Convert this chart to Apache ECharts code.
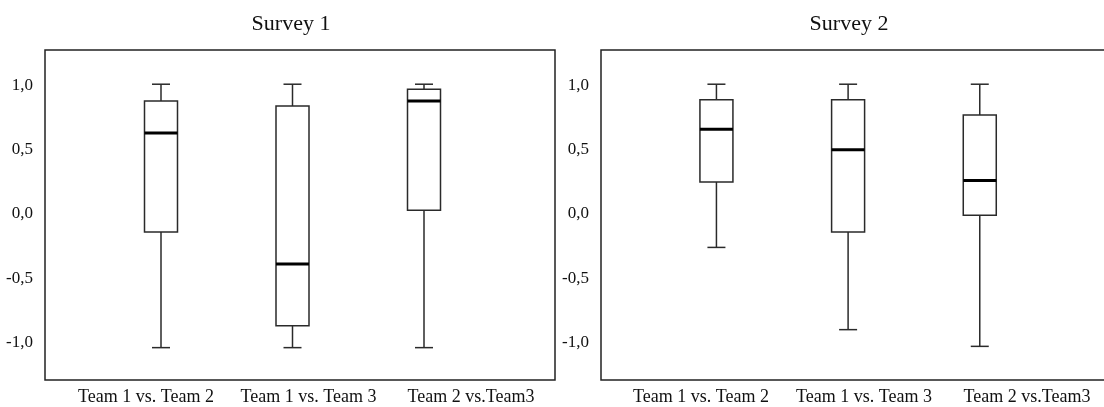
<!DOCTYPE html>
<html>
<head>
<meta charset="utf-8">
<script src="https://cdn.jsdelivr.net/npm/echarts@6/dist/echarts.min.js"></script>
<style>
  html, body { margin: 0; padding: 0; background: #fff; }
  #main { width: 1104px; height: 407px; }
</style>
</head>
<body>
<div id="main"></div>
<script>
'use strict';
var categories = ['Team 1 vs. Team 2', 'Team 1 vs. Team 3', 'Team 2 vs.Team3'];
var titles = ['Survey 1', 'Survey 2'];
var yTicks = [-1.5, -1, -0.5, 0, 0.5, 1, 1.5];

// [lower whisker, Q1, median, Q3, upper whisker]
var survey1Low = [-1.04, -1.04, -1.04];
var survey1Q1 = [-0.14, -0.87, 0.03];
var survey1Median = [0.63, -0.39, 0.88];
var survey1Q3 = [0.88, 0.84, 0.97];
var survey1High = [1.01, 1.01, 1.01];

var survey2Low = [-0.26, -0.90, -1.03];
var survey2Q1 = [0.25, -0.14, -0.01];
var survey2Median = [0.66, 0.50, 0.26];
var survey2Q3 = [0.89, 0.89, 0.77];
var survey2High = [1.01, 1.01, 1.01];

function rows(low, q1, med, q3, high) {
    return categories.map(function (c, i) {
        return [i, low[i], q1[i], med[i], q3[i], high[i]];
    });
}

var FONT = 'Liberation Serif';

function renderBox(params, api) {
    var x = api.value(0);
    var lo = api.coord([x, api.value(1)]);
    var q1 = api.coord([x, api.value(2)]);
    var md = api.coord([x, api.value(3)]);
    var q3 = api.coord([x, api.value(4)]);
    var hi = api.coord([x, api.value(5)]);
    var hw = 16.5, cw = 9;
    var cx = lo[0];
    var st = { stroke: '#2a2a2a', lineWidth: 1.5, fill: null };
    return {
        type: 'group',
        children: [
            { type: 'line', shape: { x1: cx, y1: hi[1], x2: cx, y2: q3[1] }, style: st },
            { type: 'line', shape: { x1: cx, y1: q1[1], x2: cx, y2: lo[1] }, style: st },
            { type: 'line', shape: { x1: cx - cw, y1: hi[1], x2: cx + cw, y2: hi[1] }, style: st },
            { type: 'line', shape: { x1: cx - cw, y1: lo[1], x2: cx + cw, y2: lo[1] }, style: st },
            { type: 'rect', shape: { x: cx - hw, y: q3[1], width: hw * 2, height: q1[1] - q3[1] },
              style: { stroke: '#2a2a2a', lineWidth: 1.5, fill: '#fff' } },
            { type: 'line', shape: { x1: cx - hw, y1: md[1], x2: cx + hw, y2: md[1] },
              style: { stroke: '#000', lineWidth: 3 } }
        ]
    };
}

// panel layout: frame, box grid, label grid
var panels = [
    { frameLeft: 45, frameWidth: 510, boxLeft: 95.25, boxWidth: 394.5, labelLeft: 64.75, labelWidth: 487.5, titleX: 286,
      data: rows(survey1Low, survey1Q1, survey1Median, survey1Q3, survey1High) },
    { frameLeft: 601, frameWidth: 520, boxLeft: 650.6, boxWidth: 395, labelLeft: 619.5, labelWidth: 489, titleX: 844,
      data: rows(survey2Low, survey2Q1, survey2Median, survey2Q3, survey2High) }
];

var option = {
    animation: false,
    backgroundColor: '#fff',
    title: [], grid: [], xAxis: [], yAxis: [], series: []
};

panels.forEach(function (p, k) {
    var g = option.grid.length;
    option.title.push({
        text: titles[k], left: p.titleX, top: 8, textAlign: 'center',
        textStyle: { fontFamily: FONT, fontSize: 22, fontWeight: 'normal', color: '#111' }
    });
    // frame
    option.grid.push({ left: p.frameLeft, top: 50, width: p.frameWidth, height: 330, show: true,
        outerBoundsMode: 'none',
        borderColor: '#222', borderWidth: 1.5, backgroundColor: 'transparent' });
    option.xAxis.push({ gridIndex: g, type: 'category', data: categories, show: false });
    option.yAxis.push({ gridIndex: g, type: 'value', show: false });
    // boxes
    option.grid.push({ left: p.boxLeft, top: 21.25, width: p.boxWidth, height: 385.5, outerBoundsMode: 'none' });
    option.xAxis.push({ gridIndex: g + 1, type: 'category', data: categories, show: false });
    option.yAxis.push({
        gridIndex: g + 1, type: 'value', min: yTicks[0], max: yTicks[yTicks.length - 1], interval: 0.5,
        offset: p.boxLeft - p.frameLeft,
        axisLine: { show: false }, axisTick: { show: false }, splitLine: { show: false },
        axisLabel: {
            showMinLabel: false, showMaxLabel: false, margin: 12,
            fontFamily: FONT, fontSize: 17, color: '#111',
            formatter: function (v) { return v.toFixed(1).replace('.', ','); }
        }
    });
    // category labels
    option.grid.push({ left: p.labelLeft, top: 50, width: p.labelWidth, height: 330, outerBoundsMode: 'none' });
    option.xAxis.push({
        gridIndex: g + 2, type: 'category', data: categories,
        axisLine: { show: false }, axisTick: { show: false },
        axisLabel: { margin: 8, fontFamily: FONT, fontSize: 18, color: '#111', interval: 0 }
    });
    option.yAxis.push({ gridIndex: g + 2, type: 'value', show: false });

    option.series.push({
        type: 'custom', xAxisIndex: g + 1, yAxisIndex: g + 1,
        renderItem: renderBox, encode: { x: 0, y: [1, 2, 3, 4, 5] },
        data: p.data, z: 5
    });
});

var myChart = echarts.init(document.getElementById('main'));
myChart.setOption(option);
</script>
</body>
</html>
